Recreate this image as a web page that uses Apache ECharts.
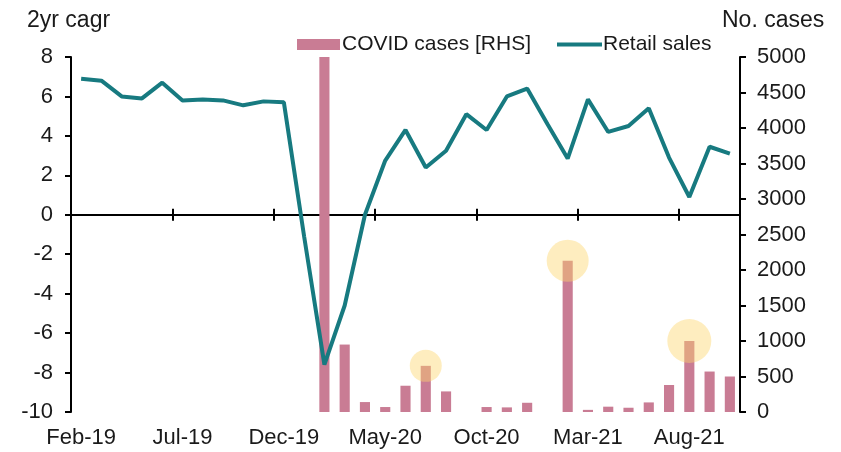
<!DOCTYPE html>
<html>
<head>
<meta charset="utf-8">
<script src="https://cdn.jsdelivr.net/npm/echarts@6/dist/echarts.min.js"></script>
<style>
  html, body { margin: 0; padding: 0; background: #fff; }
  #chart { width: 841px; height: 452px; }
</style>
</head>
<body>
<div id="chart"></div>
<script>
// months on the x axis
const months = ["Feb-19", "Mar-19", "Apr-19", "May-19", "Jun-19", "Jul-19", "Aug-19", "Sep-19", "Oct-19", "Nov-19", "Dec-19",
  "Jan-20", "Feb-20", "Mar-20", "Apr-20", "May-20", "Jun-20", "Jul-20", "Aug-20", "Sep-20", "Oct-20", "Nov-20", "Dec-20",
  "Jan-21", "Feb-21", "Mar-21", "Apr-21", "May-21", "Jun-21", "Jul-21", "Aug-21", "Sep-21", "Oct-21"];
// retail sales, 2yr cagr (LHS)
const retail = [6.9, 6.8, 6.0, 5.9, 6.7, 5.8, 5.85, 5.8, 5.55, 5.75, 5.7,
  -1.1, -7.6, -4.6, 0.0, 2.75, 4.3, 2.4, 3.25, 5.1, 4.3, 6.0, 6.4,
  4.6, 2.85, 5.85, 4.2, 4.5, 5.4, 2.9, 0.9, 3.45, 3.1];
// COVID cases (RHS)
const cases = [null, null, null, null, null, null, null, null, null, null, null,
  null, 5000, 950, 140, 70, 370, 650, 290, null, 70, 65, 130,
  null, 2130, 30, 75, 60, 135, 380, 1000, 570, 500];
// highlighted months
const highlights = ["Jul-20", "Feb-21", "Aug-21"];

const font = "Liberation Sans, Arial, sans-serif";
const txt = "#1a1a1a";

let chart = echarts.init(document.getElementById("chart"));

const option = {
  animation: false,
  textStyle: { fontFamily: font },
  grid: { left: 71, right: 101, top: 57, bottom: 40, outerBoundsMode: "none" },
  graphic: [
    { type: "text", left: 27, top: 9, style: { text: "2yr cagr", font: "23px " + font, fill: txt } },
    { type: "text", left: 722, top: 9, style: { text: "No. cases", font: "23px " + font, fill: txt } }
  ],
  legend: [
    {
      left: 292,
      top: 29,
      itemWidth: 43,
      itemHeight: 11,
      textStyle: { fontSize: 21, color: txt, fontFamily: font, padding: [0, 0, 0, -3] },
      data: [{ name: "COVID cases [RHS]", icon: "rect" }]
    },
    {
      left: 552,
      top: 29,
      itemWidth: 45,
      itemHeight: 4,
      textStyle: { fontSize: 21, color: txt, fontFamily: font, padding: [0, 0, 0, -4] },
      data: [{ name: "Retail sales", icon: "rect" }]
    }
  ],
  xAxis: [
    {
      type: "category",
      data: months,
      position: "bottom",
      axisLine: { show: false, onZero: false },
      axisTick: { show: false },
      axisLabel: { interval: 4, margin: 15, fontSize: 22, color: txt, fontFamily: font }
    },
    {
      type: "category",
      data: months,
      position: "bottom",
      axisLine: { show: true, onZero: true, onZeroAxisIndex: 0, lineStyle: { color: "#000", width: 2 } },
      axisTick: { show: true, interval: 4, length: 6, lineStyle: { color: "#000", width: 2 } },
      axisLabel: { show: false }
    },
    {
      type: "category",
      data: months,
      position: "bottom",
      axisLine: { show: false, onZero: true, onZeroAxisIndex: 0 },
      axisTick: { show: true, inside: true, interval: 4, length: 6, lineStyle: { color: "#000", width: 2 } },
      axisLabel: { show: false }
    }
  ],
  yAxis: [
    {
      type: "value",
      min: -10,
      max: 8,
      interval: 2,
      axisLine: { show: true, lineStyle: { color: "#000", width: 2 } },
      axisTick: { show: true, length: 6, lineStyle: { color: "#000", width: 2 } },
      axisLabel: { margin: 18, fontSize: 22, color: txt, fontFamily: font },
      splitLine: { show: false }
    },
    {
      type: "value",
      min: 0,
      max: 5000,
      interval: 500,
      position: "right",
      axisLine: { show: true, lineStyle: { color: "#000", width: 2 } },
      axisTick: { show: true, length: 6, lineStyle: { color: "#000", width: 2 } },
      axisLabel: { margin: 17, fontSize: 22, color: txt, fontFamily: font, formatter: v => String(v) },
      splitLine: { show: false }
    }
  ],
  series: [
    {
      name: "COVID cases [RHS]",
      type: "bar",
      xAxisIndex: 0,
      yAxisIndex: 1,
      barWidth: "50%",
      itemStyle: { color: "#c97c94" },
      data: cases,
      z: 2
    },
    {
      name: "highlight",
      type: "scatter",
      xAxisIndex: 0,
      yAxisIndex: 1,
      symbol: "circle",
      symbolSize: function (v, p) { return [32, 42, 44][p.dataIndex]; },
      itemStyle: { color: "rgba(252, 214, 110, 0.55)" },
      data: highlights.map(m => [m, cases[months.indexOf(m)]]),
      z: 3
    },
    {
      name: "Retail sales",
      type: "line",
      xAxisIndex: 0,
      yAxisIndex: 0,
      symbol: "none",
      lineStyle: { color: "#177a80", width: 4 },
      itemStyle: { color: "#177a80" },
      data: retail,
      z: 4
    }
  ]
};
chart.setOption(option);
window.addEventListener("resize", function () {
  chart.resize();
});
</script>
</body>
</html>
